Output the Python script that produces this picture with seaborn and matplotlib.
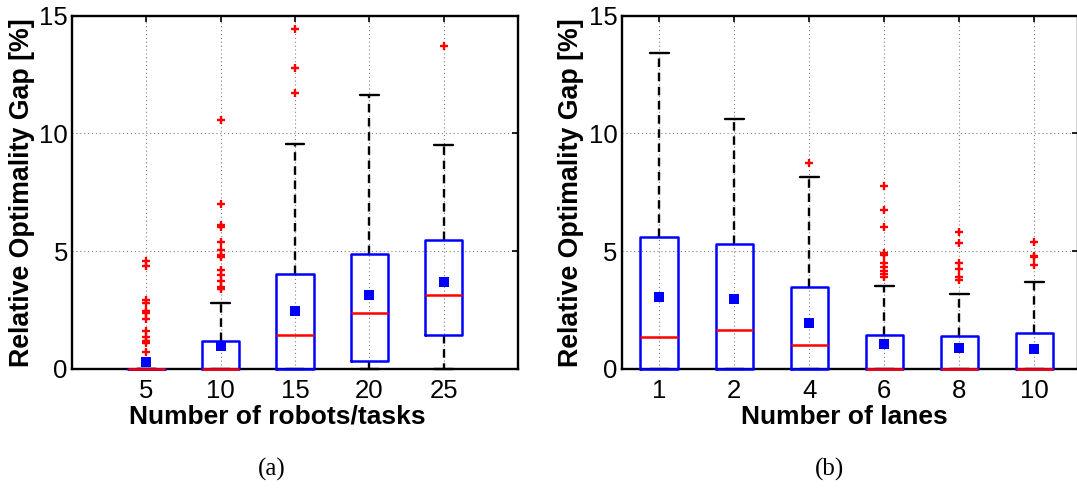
import numpy as np
import matplotlib
matplotlib.use("Agg")
import matplotlib.pyplot as plt
import seaborn as sns

# ---- (a) gap vs. number of robots/tasks ----
robots_cats = ["5", "10", "15", "20", "25"]
robots_q1 = [0.0, 0.0, 0.0, 0.34, 1.43]
robots_med = [0.0, 0.0, 1.46, 2.38, 3.14]
robots_q3 = [0.0, 1.20, 4.02, 4.88, 5.46]
robots_lo = [0.0, 0.0, 0.0, 0.0, 0.0]
robots_hi = [0.0, 2.79, 9.55, 11.62, 9.51]
robots_mean = [0.28, 0.98, 2.45, 3.13, 3.68]
robots_out = [
    [4.58, 4.39, 2.93, 2.82, 2.48, 2.39, 2.11, 1.63, 1.34, 1.20, 1.09, 0.74],
    [10.57, 6.99, 6.11, 6.04, 5.38, 5.05, 4.84, 4.74, 4.20, 3.99, 3.74, 3.50, 3.41],
    [14.43, 12.76, 11.72],
    [],
    [13.70],
]

# ---- (b) gap vs. number of lanes ----
lanes_cats = ["1", "2", "4", "6", "8", "10"]
lanes_q1 = [0.0, 0.0, 0.0, 0.0, 0.0, 0.0]
lanes_med = [1.36, 1.64, 1.03, 0.0, 0.0, 0.0]
lanes_q3 = [5.60, 5.32, 3.48, 1.46, 1.40, 1.54]
lanes_lo = [0.0, 0.0, 0.0, 0.0, 0.0, 0.0]
lanes_hi = [13.41, 10.63, 8.15, 3.52, 3.17, 3.69]
lanes_mean = [3.06, 2.99, 1.94, 1.05, 0.88, 0.83]
lanes_out = [
    [],
    [],
    [8.74],
    [7.77, 6.75, 6.03, 4.91, 4.83, 4.49, 4.34, 4.17, 4.03, 3.89],
    [5.83, 5.35, 4.51, 4.26, 3.89, 3.78],
    [5.41, 4.81, 4.74, 4.41],
]

sns.set_theme(style="white")
plt.rcParams["font.family"] = ["Liberation Sans", "DejaVu Sans"]
plt.rcParams["text.color"] = "black"
plt.rcParams["axes.labelcolor"] = "black"

W, H = 1077, 493
fig = plt.figure(figsize=(W / 100, H / 100), dpi=100)
fig.patch.set_facecolor("white")

ax_a = fig.add_axes([72 / W, (H - 369) / H, 446 / W, 353.3 / H])
ax_b = fig.add_axes([621.7 / W, (H - 369) / H, (1078 - 621.7) / W, 353.3 / H])

BLUE = "#0000ff"
RED = "#ff0000"


def draw_panel(ax, cats, q1, med, q3, lo, hi, means, outliers, xlim, xlabel, xlabel_px, ylabel_px):
    pos = np.arange(1, len(cats) + 1)
    stats = [
        dict(q1=a, med=m, q3=b, whislo=l, whishi=h, fliers=[])
        for a, m, b, l, h in zip(q1, med, q3, lo, hi)
    ]
    parts = ax.bxp(
        stats,
        positions=pos,
        widths=0.5,
        capwidths=0.25,
        showfliers=False,
        manage_ticks=False,
        boxprops=dict(color=BLUE, lw=1.8),
        medianprops=dict(color=RED, lw=1.8),
        whiskerprops=dict(color="black", lw=1.7, ls=(0, (3.6, 2.4))),
        capprops=dict(color="black", lw=1.7),
    )
    # boxes sit on top of the frame so the zero-level boxes stay visible
    for key, z in (("whiskers", 3), ("caps", 3), ("boxes", 3.2), ("medians", 3.4)):
        for artist in parts[key]:
            artist.set_clip_on(False)
            artist.set_zorder(z)

    fx = [p for p, grp in zip(pos, outliers) for _ in grp]
    fy = [v for grp in outliers for v in grp]
    sns.scatterplot(x=fx, y=fy, marker="+", color=RED, s=32, linewidth=1.7,
                    ax=ax, zorder=4, legend=False)
    sns.scatterplot(x=pos, y=means, marker="s", color=BLUE, s=44, linewidth=0,
                    ax=ax, zorder=5, legend=False, clip_on=False)

    ax.set_xlim(*xlim)
    ax.set_ylim(0, 15)
    ax.set_xticks(pos)
    ax.set_xticklabels(cats)
    ax.set_yticks([0, 5, 10, 15])
    ax.grid(True, ls=(0, (1, 2.5)), color="0.5", lw=0.8)
    ax.set_axisbelow(True)
    ax.tick_params(direction="in", length=4, width=1.2, top=True, right=True,
                   labelsize=18.5, colors="black")
    ax.tick_params(axis="x", pad=7)
    ax.tick_params(axis="y", pad=3)
    for s in ax.spines.values():
        s.set_color("black")
        s.set_linewidth(1.7)

    x0 = ax.get_position().x0 * W
    x1 = ax.get_position().x1 * W
    ax.set_xlabel(xlabel, fontsize=19, fontweight="bold", va="baseline")
    ax.xaxis.set_label_coords((xlabel_px - x0) / (x1 - x0), (369 - 424) / 353.3)
    ax.set_ylabel("Relative Optimality Gap [%]", fontsize=19.3, fontweight="bold", va="center")
    ax.yaxis.set_label_coords((ylabel_px - x0) / (x1 - x0), 0.5)


draw_panel(ax_a, robots_cats, robots_q1, robots_med, robots_q3, robots_lo, robots_hi,
           robots_mean, robots_out, (0, 6), "Number of robots/tasks", 277.5, 22)
draw_panel(ax_b, lanes_cats, lanes_q1, lanes_med, lanes_q3, lanes_lo, lanes_hi,
           lanes_mean, lanes_out, (0.5, 6.58), "Number of lanes", 844, 571.5)

fig.text(272 / W, 1 - 469 / H, "(a)", ha="center", va="center",
         fontsize=18, family="Liberation Serif", color="black")
fig.text(830 / W, 1 - 469 / H, "(b)", ha="center", va="center",
         fontsize=18, family="Liberation Serif", color="black")

fig.savefig("out.png", dpi=100, facecolor="white")
